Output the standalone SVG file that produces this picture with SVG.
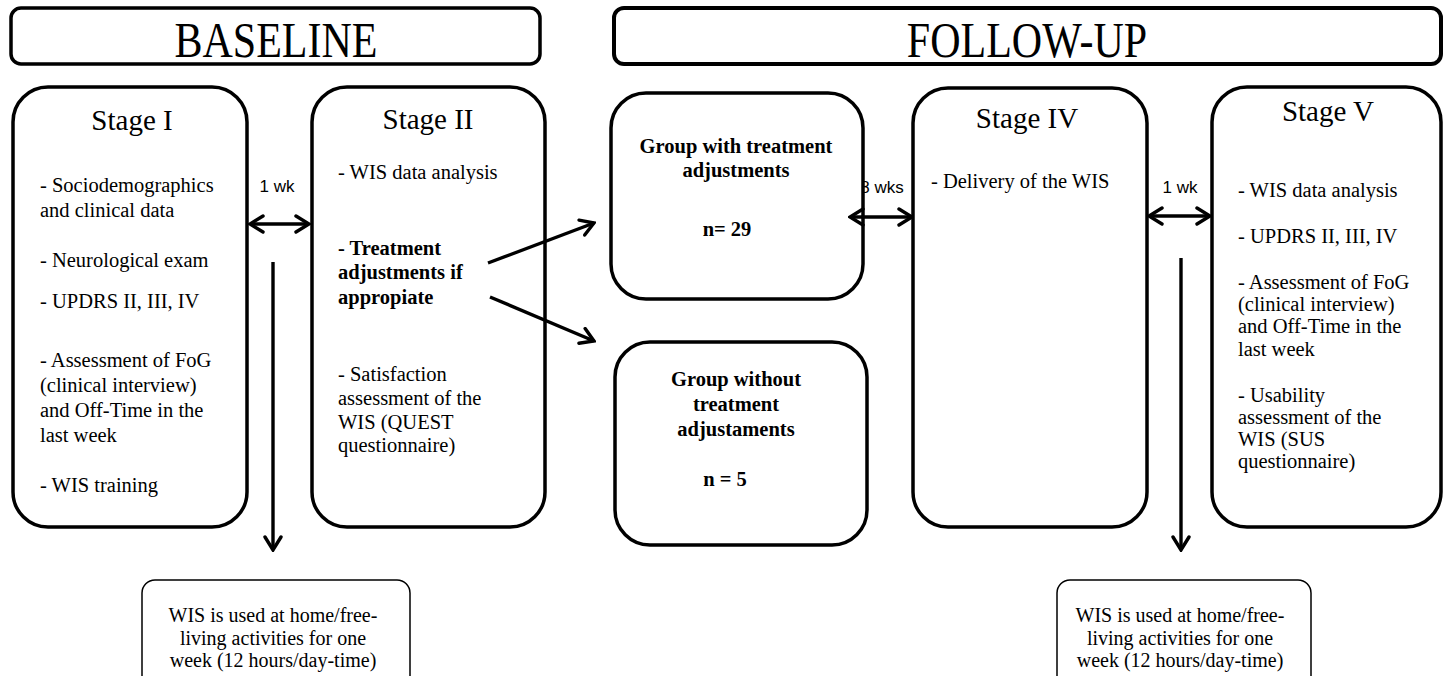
<svg xmlns="http://www.w3.org/2000/svg" width="1451" height="676" viewBox="0 0 1451 676">
<defs>
<style>
.box{fill:#fff;stroke:#000;stroke-width:3.5}
.sbox{fill:#fff;stroke:#000;stroke-width:1.5}
.hdr{font-family:"Liberation Serif",serif;font-size:42px;fill:#000;text-anchor:middle}
.ttl{font-family:"Liberation Serif",serif;font-size:29px;fill:#000;text-anchor:middle}
.t{font-family:"Liberation Serif",serif;font-size:20.5px;fill:#000}
.b{font-family:"Liberation Serif",serif;font-size:20.5px;font-weight:bold;fill:#000}
.bc{font-family:"Liberation Serif",serif;font-size:20.5px;font-weight:bold;fill:#000;text-anchor:middle}
.sm{font-family:"Liberation Serif",serif;font-size:20px;fill:#000;text-anchor:middle}
.lbl{font-family:"Liberation Sans",sans-serif;font-size:17px;fill:#000;text-anchor:middle}
.arr{stroke:#000;stroke-width:3.4;fill:none}
</style>
<marker id="ah" viewBox="0 0 17 20" refX="15" refY="10" markerWidth="17" markerHeight="20" markerUnits="userSpaceOnUse" orient="auto-start-reverse">
<path d="M2,2 L15,10 L2,18" fill="none" stroke="#000" stroke-width="3.4" stroke-linecap="round" stroke-linejoin="miter"/>
</marker>
</defs>
<g id="connector-labels">
<text class="lbl" x="277" y="192">1 wk</text>
<text class="lbl" x="882" y="193">8 wks</text>
<text class="lbl" x="1180" y="193">1 wk</text>
</g>
<g id="baseline-header">
<rect class="box" x="11" y="8" width="529" height="56" rx="10"/>
<text class="hdr" x="276" y="0" transform="translate(0,57) scale(1,1.2)">BASELINE</text>
</g>
<g id="followup-header">
<rect class="box" x="614" y="8" width="827" height="56" rx="10" style="stroke-width:4"/>
<text class="hdr" x="1027" y="0" transform="translate(0,57) scale(1,1.2)">FOLLOW-UP</text>
</g>
<g id="stage1">
<rect class="box" x="13" y="87" width="234" height="440" rx="35"/>
<text class="ttl" x="132" y="130">Stage I</text>
<text class="t" x="40" y="192">- Sociodemographics</text>
<text class="t" x="40" y="217">and clinical data</text>
<text class="t" x="40" y="267">- Neurological exam</text>
<text class="t" x="40" y="308">- UPDRS II, III, IV</text>
<text class="t" x="40" y="367">- Assessment of FoG</text>
<text class="t" x="40" y="392">(clinical interview)</text>
<text class="t" x="40" y="417">and Off-Time in the</text>
<text class="t" x="40" y="442">last week</text>
<text class="t" x="40" y="492">- WIS training</text>
</g>
<g id="stage2">
<rect class="box" x="312" y="87" width="233" height="440" rx="35"/>
<text class="ttl" x="428" y="129">Stage II</text>
<text class="t" x="338" y="179">- WIS data analysis</text>
<text class="b" x="338" y="255">- Treatment</text>
<text class="b" x="338" y="279">adjustments if</text>
<text class="b" x="338" y="304">appropiate</text>
<text class="t" x="338" y="381">- Satisfaction</text>
<text class="t" x="338" y="405">assessment of the</text>
<text class="t" x="338" y="429">WIS (QUEST</text>
<text class="t" x="338" y="452">questionnaire)</text>
</g>
<g id="group-with">
<rect class="box" x="611" y="93" width="252" height="206" rx="35"/>
<text class="bc" x="736" y="153">Group with treatment</text>
<text class="bc" x="736" y="177">adjustments</text>
<text class="bc" x="727" y="236">n= 29</text>
</g>
<g id="group-without">
<rect class="box" x="615" y="342" width="252" height="203" rx="35"/>
<text class="bc" x="736" y="386">Group without</text>
<text class="bc" x="736" y="411">treatment</text>
<text class="bc" x="736" y="436">adjustaments</text>
<text class="bc" x="725" y="486">n = 5</text>
</g>
<g id="stage4">
<rect class="box" x="913" y="88" width="234" height="439" rx="35"/>
<text class="ttl" x="1027" y="128">Stage IV</text>
<text class="t" x="931" y="188">- Delivery of the WIS</text>
</g>
<g id="stage5">
<rect class="box" x="1212" y="87" width="229" height="440" rx="35"/>
<text class="ttl" x="1328" y="121">Stage V</text>
<text class="t" x="1238" y="197">- WIS data analysis</text>
<text class="t" x="1238" y="243">- UPDRS II, III, IV</text>
<text class="t" x="1238" y="289">- Assessment of FoG</text>
<text class="t" x="1238" y="311">(clinical interview)</text>
<text class="t" x="1238" y="333">and Off-Time in the</text>
<text class="t" x="1238" y="356">last week</text>
<text class="t" x="1238" y="402">- Usability</text>
<text class="t" x="1238" y="424">assessment of the</text>
<text class="t" x="1238" y="446">WIS (SUS</text>
<text class="t" x="1238" y="468">questionnaire)</text>
</g>
<g id="home-use-1">
<rect class="sbox" x="142" y="580" width="268" height="110" rx="13"/>
<text class="sm" x="273" y="622">WIS is used at home/free-</text>
<text class="sm" x="273" y="645">living activities for one</text>
<text class="sm" x="273" y="667">week (12 hours/day-time)</text>
</g>
<g id="home-use-2">
<rect class="sbox" x="1057" y="580" width="254" height="110" rx="13"/>
<text class="sm" x="1180" y="622">WIS is used at home/free-</text>
<text class="sm" x="1180" y="645">living activities for one</text>
<text class="sm" x="1180" y="667">week (12 hours/day-time)</text>
</g>
<g id="connectors">
<line class="arr" x1="250" y1="224" x2="309" y2="224" marker-start="url(#ah)" marker-end="url(#ah)"/>
<line class="arr" x1="273" y1="262" x2="273" y2="550" marker-end="url(#ah)"/>
<line class="arr" x1="488" y1="263" x2="594" y2="223" marker-end="url(#ah)"/>
<line class="arr" x1="490" y1="297" x2="594" y2="341" marker-end="url(#ah)"/>
<line class="arr" x1="850" y1="217" x2="912" y2="217" marker-start="url(#ah)" marker-end="url(#ah)"/>
<line class="arr" x1="1149" y1="216" x2="1210" y2="216" marker-start="url(#ah)" marker-end="url(#ah)"/>
<line class="arr" x1="1181" y1="258" x2="1181" y2="550" marker-end="url(#ah)"/>
</g>
</svg>
